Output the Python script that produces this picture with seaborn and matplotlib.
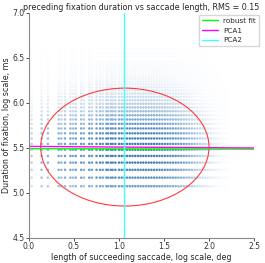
import numpy as np
import pandas as pd
import matplotlib
matplotlib.use("Agg")
import matplotlib.pyplot as plt
from matplotlib.patches import Ellipse
from matplotlib.colors import LinearSegmentedColormap
import seaborn as sns

# fixation durations (ms) of the visible rows, and how dense each row looks
row_ms = [160, 176, 192, 208, 224, 240, 256, 272, 288, 304, 320, 336, 352,
          368, 384, 400, 416, 432, 448, 464, 480, 496, 512, 528, 544, 560,
          576, 592, 608, 624, 640, 672, 704, 736]
row_w = [0.65, 0.78, 0.88, 0.97, 1.0, 1.0, 1.0, 0.9, 0.85, 0.75, 0.65, 0.55,
         0.5, 0.42, 0.35, 0.3, 0.25, 0.22, 0.2, 0.16, 0.14, 0.12, 0.1, 0.09,
         0.08, 0.07, 0.07, 0.06, 0.06, 0.05, 0.05, 0.04, 0.04, 0.03]

# saccade length columns (log deg) and their density
col_x = [0.03, 0.14, 0.21, 0.33, 0.36, 0.40, 0.46, 0.49, 0.52, 0.58, 0.61,
         0.67, 0.70, 0.75, 0.79, 0.82, 0.86, 0.88, 0.91, 0.93, 0.96,
         1.00, 1.03, 1.06, 1.09, 1.12, 1.15, 1.18, 1.21,
         1.24, 1.27, 1.30, 1.33, 1.36, 1.39, 1.42, 1.45, 1.48, 1.51, 1.54,
         1.57, 1.60, 1.63, 1.66, 1.69, 1.72, 1.75, 1.78, 1.81, 1.84, 1.87,
         1.90, 1.93, 1.96, 1.99, 2.02, 2.05, 2.08, 2.11, 2.14, 2.17, 2.20]
col_w = [0.3, 0.5, 0.5, 0.6, 0.5, 0.65, 0.65, 0.55, 0.7, 0.75, 0.6,
         0.85, 0.7, 0.9, 0.9, 0.8, 0.95, 0.85, 0.95, 0.9, 1.0,
         1.0, 1.0, 1.0, 1.0, 1.0, 1.0, 1.0, 1.0,
         1.0, 1.0, 1.0, 1.0, 1.0, 1.0, 0.95, 0.95, 0.9, 0.9, 0.85,
         0.8, 0.8, 0.75, 0.7, 0.65, 0.6, 0.55, 0.5, 0.45, 0.4, 0.35,
         0.3, 0.28, 0.25, 0.2, 0.18, 0.15, 0.12, 0.1, 0.08, 0.06, 0.05]

# fitted lines and the covariance ellipse
center = (1.065, 5.51)
ell_w, ell_h = 1.87, 1.31
pca1_slope = -0.007
pca2_x = 1.06
fit_a, fit_b = 5.492, -0.002
rms = 0.15

rows = []
for ms, rw in zip(row_ms, row_w):
    for x, cw in zip(col_x, col_w):
        rows.append((x, np.log(ms), rw * cw))
df = pd.DataFrame(rows, columns=["sacc", "fix", "level"]).sort_values("level")

sns.set_style("ticks")
plt.rcParams["font.family"] = ["DejaVu Sans"]
plt.rcParams["font.size"] = 5.5

fig = plt.figure(figsize=(2.65, 2.63), dpi=100)
ax = fig.add_axes([0.1094, 0.0951, 0.8491, 0.8555])

cmap = LinearSegmentedColormap.from_list(
    "dens", [(0, "#ffffff"), (0.06, "#f7fafd"), (0.15, "#dfe9f4"),
             (0.35, "#a9c6e2"), (0.65, "#6a9bcb"), (1, "#3e7bb6")])
sns.scatterplot(data=df, x="sacc", y="fix", hue="level", palette=cmap,
                hue_norm=(0, 1), s=3.2, marker="o", linewidth=0, legend=False, ax=ax)

ax.add_patch(Ellipse(center, ell_w, ell_h, fill=False, color="#ff3b3b", lw=0.8))
ax.axline((0, fit_a), slope=fit_b, color="#00ff00", lw=1.0, label="robust fit")
ax.axline(center, slope=pca1_slope, color="#ff00ff", lw=1.0, label="PCA1")
ax.axvline(pca2_x, color="#40ffff", lw=1.0, label="PCA2")

ax.set_xlim(0, 2.5)
ax.set_ylim(4.5, 7.0)
ax.set_xticks([0.0, 0.5, 1.0, 1.5, 2.0, 2.5])
ax.set_yticks([4.5, 5.0, 5.5, 6.0, 6.5, 7.0])
ax.xaxis.set_major_formatter(matplotlib.ticker.FormatStrFormatter("%.1f"))
ax.yaxis.set_major_formatter(matplotlib.ticker.FormatStrFormatter("%.1f"))
ax.tick_params(labelsize=5.5, length=2, width=0.6, pad=1, colors="#333333")
for side in ["top", "right"]:
    ax.spines[side].set_visible(False)
for side in ["left", "bottom"]:
    ax.spines[side].set_color("#888888")
    ax.spines[side].set_linewidth(0.8)

ax.set_xlabel("length of succeeding saccade, log scale, deg", fontsize=5.8, labelpad=1)
ax.set_ylabel("Duration of fixation, log scale, ms", fontsize=5.8, labelpad=1)
ax.set_title(f"preceding fixation duration vs saccade length, RMS = {rms}",
             fontsize=5.8, pad=2)
ax.legend(loc="upper right", bbox_to_anchor=(1.022, 0.991), borderaxespad=0,
          fontsize=5.2, frameon=True, handlelength=2.2, labelspacing=0.5)

fig.savefig("out.png", dpi=100)
